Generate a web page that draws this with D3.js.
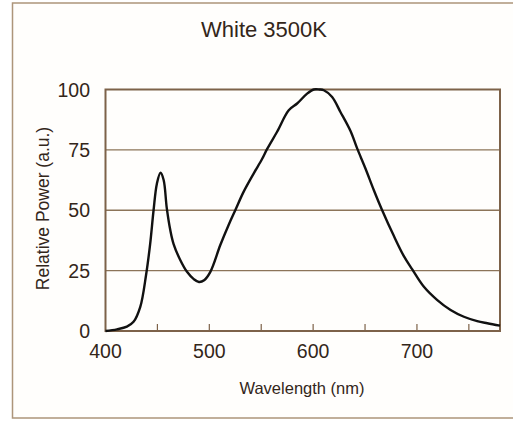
<!DOCTYPE html>
<html><head><meta charset="utf-8">
<script src="https://cdn.jsdelivr.net/npm/d3@7"></script>
<style>html,body{margin:0;padding:0;background:#fff;}svg{display:block;}</style>
</head><body>
<script>
const title = "White 3500K";
const xLabel = "Wavelength (nm)";
const yLabel = "Relative Power (a.u.)";
const wavelengths = [400,411,420.6,427,433.5,439,443,446.3,449.5,453,456,459,462.4,465.6,472,478.5,485,490,495,501,510.6,518.6,525,533,542.7,550.8,555.6,565.3,576.5,584.6,594.2,600.6,606,610.3,618.3,626.3,636,642.4,650.4,658.5,666.5,677.7,687.4,695.5,706.7,719.6,732.4,745.2,758,767.8,780];
const power =       [0,0.7,1.8,3.8,10,23,36,50,61,65.5,62.5,51,41.8,36,29.4,24.5,21.5,20.3,21,24.5,35.6,43.9,50,57.6,65.2,71.2,75.3,82.5,91.4,94.2,98.3,100,100,99.7,96.9,90.7,82.8,75.6,67.3,58.3,50,39.4,31,25.5,18.3,12.8,8.7,5.9,4.1,3.2,2.2];
const xTicks = [400,500,600,700];
const xMinorTicks = [450,500,550,600,650,700,750];
const yTicks = [0,25,50,75,100];

const W = 513, H = 421;
const svg = d3.select("body").append("svg").attr("width", W).attr("height", H);
const font = "'Liberation Sans', Arial, sans-serif";
const textCol = "#33261a";
const axisCol = "#7d6249";
const gridCol = "#8c7459";

// outer frame
svg.append("rect").attr("x", 12.5).attr("y", 3).attr("width", W + 10).attr("height", 415)
  .attr("fill", "#fffefc").attr("stroke", "#ad957a").attr("stroke-width", 1.5);

const L = 105.5, R = 500, T = 89.5, B = 331;
const x = d3.scaleLinear().domain([400, 780]).range([L, R]);
const y = d3.scaleLinear().domain([0, 100]).range([B, T]);

// gridlines
svg.append("g").selectAll("line").data(yTicks.filter(d => d > 0 && d < 100)).join("line")
  .attr("x1", L).attr("x2", R).attr("y1", d => y(d)).attr("y2", d => y(d))
  .attr("stroke", gridCol).attr("stroke-width", 1.4);

// minor ticks (inward)
svg.append("g").selectAll("line").data(xMinorTicks).join("line")
  .attr("x1", d => x(d)).attr("x2", d => x(d)).attr("y1", B).attr("y2", B - 7)
  .attr("stroke", axisCol).attr("stroke-width", 1.2);

// plot frame
svg.append("rect").attr("x", L).attr("y", T).attr("width", R - L).attr("height", B - T)
  .attr("fill", "none").attr("stroke", axisCol).attr("stroke-width", 2);

// curve
const line = d3.line().x((d, i) => x(wavelengths[i])).y(d => y(d)).curve(d3.curveCatmullRom.alpha(0.5));
svg.append("path").datum(power).attr("d", line).attr("fill", "none")
  .attr("stroke", "#111").attr("stroke-width", 2.4).attr("stroke-linejoin", "round");

// x tick labels
svg.append("g").selectAll("text").data(xTicks).join("text")
  .attr("x", d => x(d)).attr("y", 358).attr("text-anchor", "middle")
  .attr("font-family", font).attr("font-size", 19.5).attr("fill", textCol).text(d => d);

// y tick labels
svg.append("g").selectAll("text").data(yTicks).join("text")
  .attr("x", 90).attr("y", d => y(d) + 7).attr("text-anchor", "end")
  .attr("font-family", font).attr("font-size", 19.5).attr("fill", textCol).text(d => d);

// title
svg.append("text").attr("x", 264).attr("y", 37).attr("text-anchor", "middle")
  .attr("font-family", font).attr("font-size", 22).attr("fill", textCol).text(title);

// x label
svg.append("text").attr("x", 302).attr("y", 394).attr("text-anchor", "middle")
  .attr("font-family", font).attr("font-size", 16.5).attr("fill", textCol).text(xLabel);

// y label
svg.append("text").attr("transform", "translate(48.5,208.5) rotate(-90)").attr("text-anchor", "middle")
  .attr("font-family", font).attr("font-size", 17.5).attr("fill", textCol).text(yLabel);
</script>
</body></html>
